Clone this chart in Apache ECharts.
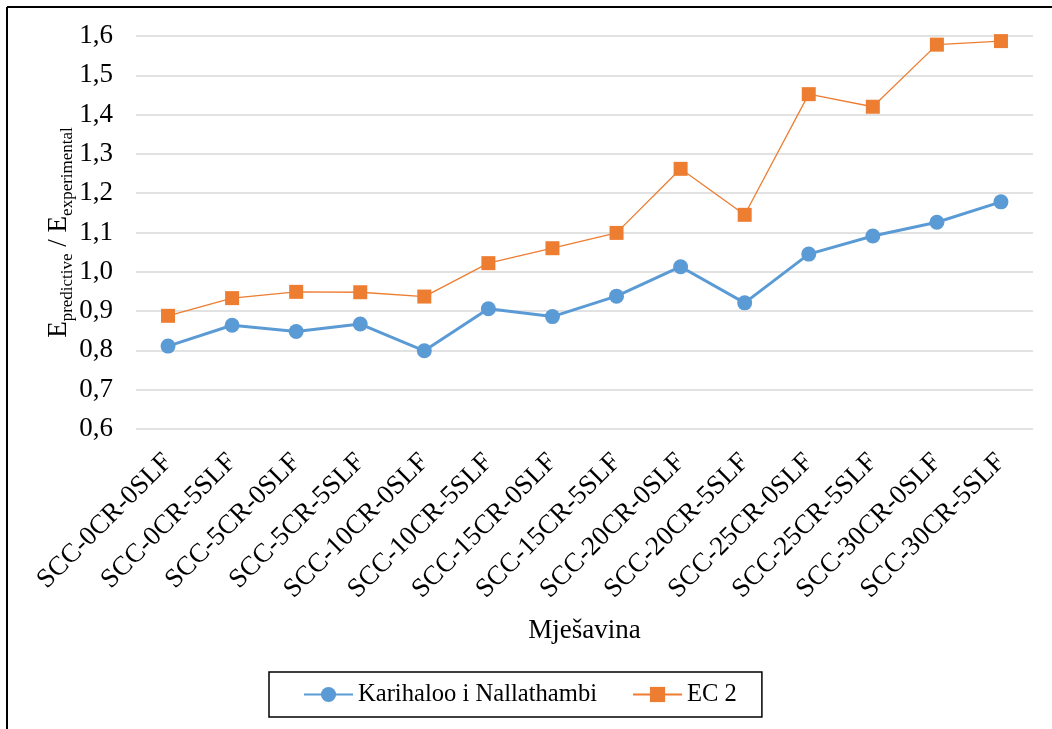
<!DOCTYPE html>
<html>
<head>
<meta charset="utf-8">
<title>Epredictive / Eexperimental</title>
<script src="https://cdn.jsdelivr.net/npm/echarts@6/dist/echarts.min.js"></script>
<style>
  html, body { margin: 0; padding: 0; background: #ffffff; }
  #chart { width: 1052px; height: 729px; }
</style>
</head>
<body>
<div id="chart"></div>
<script>
// Mix designations along the x axis
const categories = [
  'SCC-0CR-0SLF', 'SCC-0CR-5SLF', 'SCC-5CR-0SLF', 'SCC-5CR-5SLF',
  'SCC-10CR-0SLF', 'SCC-10CR-5SLF', 'SCC-15CR-0SLF', 'SCC-15CR-5SLF',
  'SCC-20CR-0SLF', 'SCC-20CR-5SLF', 'SCC-25CR-0SLF', 'SCC-25CR-5SLF',
  'SCC-30CR-0SLF', 'SCC-30CR-5SLF'
];

// Ratio of predicted to measured modulus of elasticity
const karihalooValues = [0.811, 0.864, 0.848, 0.867, 0.799, 0.906, 0.886,
                         0.938, 1.013, 0.921, 1.045, 1.091, 1.126, 1.178];
const ec2Values = [0.888, 0.933, 0.949, 0.948, 0.937, 1.022, 1.060,
                   1.099, 1.262, 1.145, 1.452, 1.420, 1.578, 1.587];

const seriesNames = ['Karihaloo i Nallathambi', 'EC 2'];

// Y axis range and step
const yMin = 0.6;
const yMax = 1.6;
const yStep = 0.1;

const FONT = '"Liberation Serif", "Times New Roman", serif';

const chart = echarts.init(document.getElementById('chart'), null, { renderer: 'canvas' });

chart.setOption({
  backgroundColor: '#ffffff',
  animation: false,
  textStyle: { fontFamily: FONT, color: '#000000' },
  graphic: [
    { type: 'line', shape: { x1: 7, y1: 7, x2: 1052, y2: 7 }, style: { stroke: '#000', lineWidth: 2 } },
    { type: 'line', shape: { x1: 7, y1: 7, x2: 7, y2: 729 }, style: { stroke: '#000', lineWidth: 2 } }
  ],
  grid: { left: 136, right: 19, top: 36, bottom: 300, containLabel: false },
  legend: {
    data: seriesNames,
    left: 269,
    top: 672,
    orient: 'horizontal',
    itemWidth: 49,
    itemHeight: 19,
    itemGap: 35,
    padding: [10, 25, 10, 34],
    borderColor: '#000000',
    borderWidth: 1.5,
    backgroundColor: '#ffffff',
    textStyle: { fontFamily: FONT, fontSize: 24.6, color: '#000000' }
  },
  xAxis: {
    type: 'category',
    data: categories,
    boundaryGap: true,
    name: 'Mješavina',
    nameLocation: 'middle',
    nameGap: 188,
    nameMoveOverlap: false,
    nameTextStyle: { fontFamily: FONT, fontSize: 27, color: '#000000' },
    axisLine: { show: false },
    axisTick: { show: false },
    axisLabel: {
      rotate: 45,
      interval: 0,
      margin: 29,
      fontFamily: FONT,
      fontSize: 27,
      color: '#000000'
    }
  },
  yAxis: {
    type: 'value',
    min: yMin,
    max: yMax,
    interval: yStep,
    name: '{e|E}{s|predictive}{e| / E}{s|experimental}',
    nameLocation: 'middle',
    nameGap: 60,
    nameRotate: 90,
    nameMoveOverlap: false,
    nameTextStyle: {
      fontFamily: FONT,
      color: '#000000',
      rich: {
        e: { fontFamily: FONT, fontSize: 27, lineHeight: 34, verticalAlign: 'middle', color: '#000' },
        s: { fontFamily: FONT, fontSize: 17, lineHeight: 18, verticalAlign: 'bottom', color: '#000' }
      }
    },
    axisLine: { show: false },
    axisTick: { show: false },
    splitLine: { show: true, lineStyle: { color: '#d9d9d9', width: 1.5 } },
    axisLabel: {
      margin: 23,
      fontFamily: FONT,
      fontSize: 27,
      color: '#000000',
      formatter: v => v.toFixed(1).replace('.', ',')
    }
  },
  series: [
    {
      name: seriesNames[0],
      type: 'line',
      data: karihalooValues,
      symbol: 'circle',
      symbolSize: 15,
      lineStyle: { color: '#5b9bd5', width: 3 },
      itemStyle: { color: '#5b9bd5' },
      z: 3
    },
    {
      name: seriesNames[1],
      type: 'line',
      data: ec2Values,
      symbol: 'rect',
      symbolSize: 14,
      lineStyle: { color: '#ed7d31', width: 1.3 },
      itemStyle: { color: '#ed7d31' },
      z: 4
    }
  ]
});
</script>
</body>
</html>
